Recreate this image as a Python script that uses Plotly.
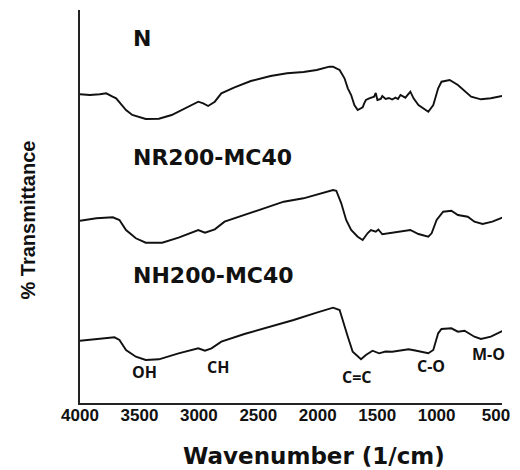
import plotly.graph_objects as go

# ---- data (wavenumber in 1/cm, transmittance in arbitrary offset units) ----
wn_N = [4000, 3917, 3834, 3779, 3726, 3696, 3613, 3560, 3447, 3336, 3229, 3115, 3005, 2963, 2922,
        2866, 2811, 2700, 2563, 2397, 2258, 2120, 2009, 1902, 1871, 1844, 1816, 1775, 1747, 1719,
        1692, 1664, 1622, 1609, 1595, 1567, 1526, 1512, 1498, 1470, 1457, 1429, 1401, 1374, 1346,
        1325, 1304, 1263, 1221, 1194, 1153, 1070, 1028, 987, 959, 890, 821, 710, 627, 544, 448]
T_N = [308.7, 308, 308.7, 309.7, 306.3, 304.7, 293, 288, 284, 284.3, 288, 295, 301.3, 299.7, 297,
       301.3, 309.7, 315.7, 322, 327, 329.7, 331, 333, 336.3, 336.3, 334.7, 333, 324.7, 314.7, 308,
       298, 293, 295.7, 299.7, 303, 304.7, 306.3, 310, 303, 304, 307, 304, 305, 303.5, 305.3,
       304, 308, 305.3, 311.3, 304.7, 298, 291.3, 298, 314.7, 321.3, 323, 318, 306.3, 303.7, 304.7, 307]

wn_NR = [4000, 3862, 3724, 3668, 3613, 3530, 3447, 3309, 3171, 3005, 2949, 2866, 2784, 2617, 2451,
         2286, 2120, 1954, 1871, 1844, 1802, 1761, 1719, 1664, 1622, 1581, 1553, 1512, 1490, 1457,
         1374, 1304, 1221, 1153, 1070, 1042, 1000, 945, 876, 821, 738, 682, 613, 531, 448]
T_NR = [182.3, 184.7, 185.7, 183, 173, 164.7, 160.3, 160.3, 165.3, 173, 170.3, 173.7, 181.3, 188, 194.7,
        201.3, 204.7, 210.7, 213, 212.3, 199.7, 183, 173, 166.3, 163, 169.7, 173, 171.3, 173.5, 168.7,
        170.3, 171.3, 173, 169, 166.3, 169.7, 183, 191.3, 192.3, 188, 186.3, 181.3, 179, 181.3, 185.3]

wn_NH = [4000, 3862, 3710, 3668, 3613, 3530, 3447, 3336, 3171, 3005, 2949, 2894, 2811, 2617, 2397,
         2203, 2009, 1871, 1816, 1788, 1747, 1706, 1636, 1595, 1539, 1484, 1430, 1374, 1300, 1236,
         1180, 1124, 1070, 1028, 987, 959, 876, 821, 765, 682, 627, 544, 448]
T_NH = [62.3, 64, 65.7, 63, 53, 46.3, 43, 43.7, 49.7, 54.7, 52.3, 54.7, 61.3, 69, 76.3,
        83, 90.3, 95.3, 93, 83, 66.3, 51.3, 43.7, 48, 52.3, 49.7, 51.5, 51.3, 52.5, 53.7,
        52.5, 51.3, 49.7, 53, 69.7, 74, 74.7, 71.3, 72.3, 66.3, 64, 66.3, 72]

series_names = ["N", "NR200-MC40", "NH200-MC40"]
series_label_T = [365, 246, 128]

band_labels = ["OH", "CH", "C=C", "C-O", "M-O"]
band_wn = [3461, 2839, 1669, 1047, 566]
band_T = [31, 36, 26, 37, 49]

tick_vals = [4000, 3500, 3000, 2500, 2000, 1500, 1000, 500]
tick_text = ["4000", "3500", "3000", "2500", "2000", "1500", "1000", "500"]

fig = go.Figure()
for wn, T, name in [(wn_N, T_N, series_names[0]), (wn_NR, T_NR, series_names[1]), (wn_NH, T_NH, series_names[2])]:
    fig.add_trace(go.Scatter(x=wn, y=T, mode="lines", name=name,
                             line=dict(color="#111111", width=1.9), showlegend=False))

annotations = []
for name, ty in zip(series_names, series_label_T):
    annotations.append(dict(x=3570, y=ty, xref="x", yref="y", text=name, showarrow=False,
                            xanchor="left", yanchor="middle",
                            font=dict(family="DejaVu Sans", size=22, color="#111111", weight="bold")))
for lab, bx, by in zip(band_labels, band_wn, band_T):
    annotations.append(dict(x=bx, y=by, xref="x", yref="y", text=lab, showarrow=False,
                            xanchor="center", yanchor="middle",
                            font=dict(family="Open Sans", size=16, color="#111111", weight="bold")))
annotations.append(dict(x=0.554, y=-0.135, xref="paper", yref="paper", text="Wavenumber (1/cm)",
                        showarrow=False, xanchor="center", yanchor="middle",
                        font=dict(family="DejaVu Sans", size=23, color="#111111", weight="bold")))
annotations.append(dict(x=-0.124, y=0.466, xref="paper", yref="paper", text="% Transmittance",
                        showarrow=False, xanchor="center", yanchor="middle", textangle=-90,
                        font=dict(family="Liberation Sans", size=20, color="#111111", weight="bold")))

fig.update_layout(
    width=520, height=470,
    margin=dict(l=80, r=12, t=10, b=67),
    plot_bgcolor="white", paper_bgcolor="white",
    annotations=annotations,
    xaxis=dict(range=[4000, 450], tickvals=tick_vals, ticktext=tick_text,
               showgrid=False, zeroline=False, showline=True, linecolor="#222222", linewidth=2,
               ticks="", ticklabelstandoff=-4,
               tickfont=dict(family="Liberation Sans", size=17, color="#111111", weight="bold")),
    yaxis=dict(range=[0, 393], showticklabels=False, showgrid=False, zeroline=False,
               showline=True, linecolor="#222222", linewidth=2, ticks=""),
)

fig.write_html("out.html", config={"displayModeBar": False},
               post_script="document.body.style.margin='0';document.body.style.overflow='hidden';")
